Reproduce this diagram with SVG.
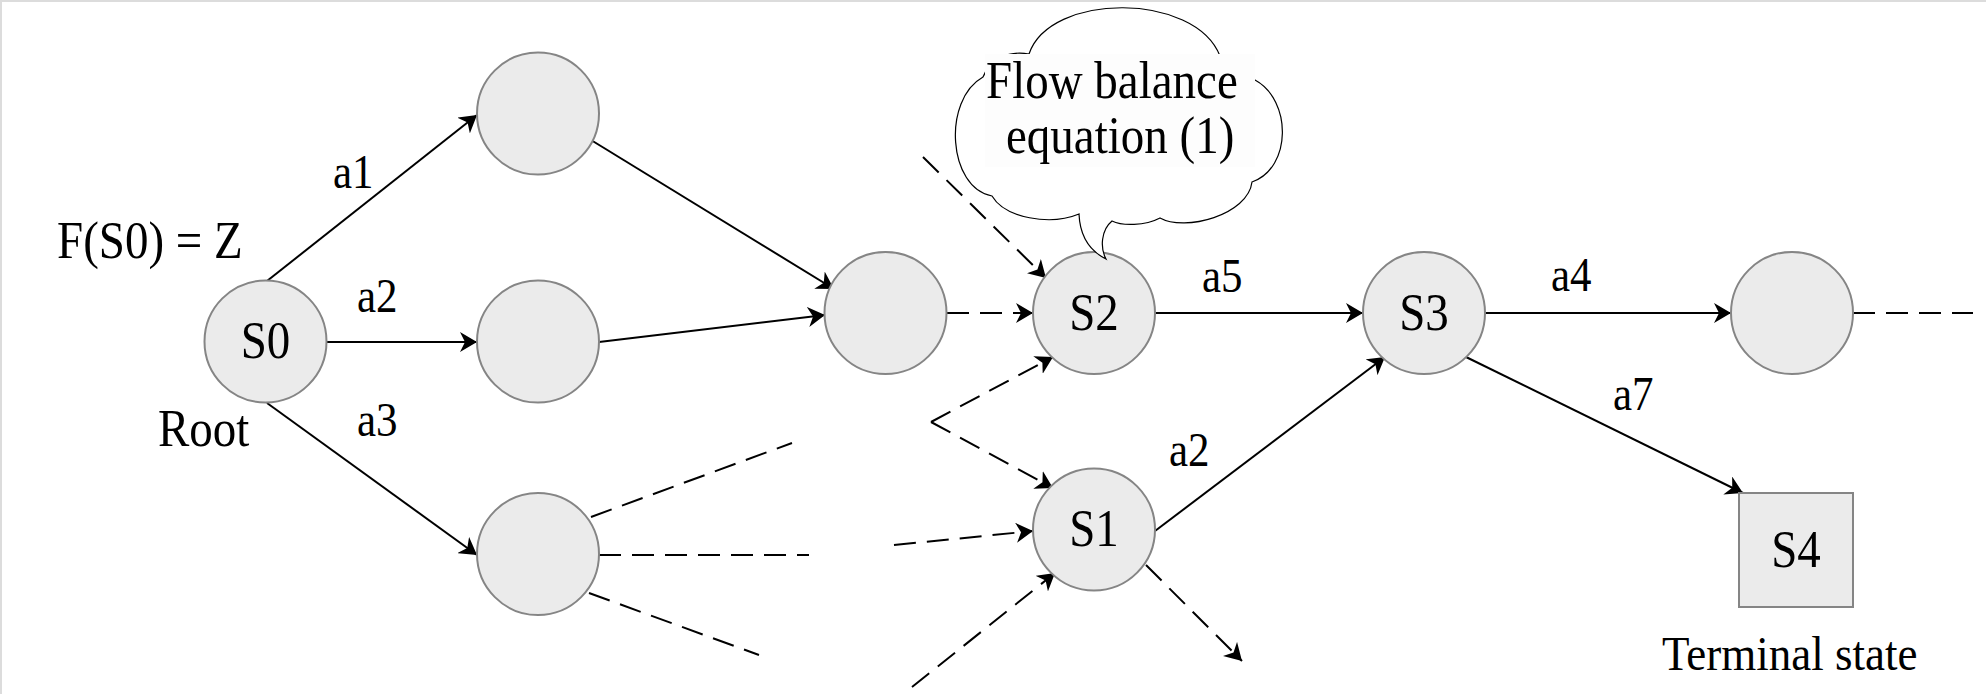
<svg xmlns="http://www.w3.org/2000/svg" width="1986" height="694" viewBox="0 0 1986 694">
<style>
.node{fill:#ebebeb;stroke:#858585;stroke-width:2}
.edge{stroke:#000;stroke-width:2;fill:none}
.dash{stroke-dasharray:22 11}
.t{font-family:"Liberation Serif","Times New Roman",serif;fill:#000}
.lbl{font-size:47px;text-anchor:middle}
.el{font-size:43px}
.big{font-size:47px}
</style>
<defs>
<marker id="arr" viewBox="0 0 18 20" refX="17" refY="10" markerWidth="18" markerHeight="20" markerUnits="userSpaceOnUse" orient="auto">
<path d="M0,0 L17,10 L0,20 L5,10 Z" fill="#000"/>
</marker>
</defs>
<rect x="0" y="0" width="1986" height="694" fill="#fff"/>
<line x1="0" y1="1" x2="1986" y2="1" stroke="#dcdcdc" stroke-width="2"/>
<line x1="1" y1="0" x2="1" y2="694" stroke="#dcdcdc" stroke-width="2"/>

<g id="connectors">
<line class="edge" x1="267" y1="281" x2="477" y2="115" marker-end="url(#arr)"/>
<line class="edge" x1="327" y1="342" x2="477" y2="342" marker-end="url(#arr)"/>
<line class="edge" x1="267" y1="403" x2="477" y2="555" marker-end="url(#arr)"/>
<line class="edge" x1="591" y1="140" x2="834" y2="289" marker-end="url(#arr)"/>
<line class="edge" x1="599" y1="342" x2="825" y2="315" marker-end="url(#arr)"/>
<line class="edge dash" x1="947" y1="313" x2="1033" y2="313" marker-end="url(#arr)"/>
<line class="edge dash" x1="923" y1="157" x2="1046" y2="278" marker-end="url(#arr)"/>
<line class="edge dash" x1="931" y1="422" x2="1053" y2="357" marker-end="url(#arr)"/>
<line class="edge dash" x1="931" y1="422" x2="1053" y2="488" marker-end="url(#arr)"/>
<line class="edge dash" x1="894" y1="545" x2="1033" y2="531" marker-end="url(#arr)"/>
<line class="edge dash" x1="912" y1="687" x2="1055" y2="573" marker-end="url(#arr)"/>
<line class="edge dash" x1="1146" y1="565" x2="1242" y2="661" marker-end="url(#arr)"/>
<line class="edge" x1="1155" y1="313" x2="1363" y2="313" marker-end="url(#arr)"/>
<line class="edge" x1="1155" y1="531" x2="1385" y2="357" marker-end="url(#arr)"/>
<line class="edge" x1="1485" y1="313" x2="1731" y2="313" marker-end="url(#arr)"/>
<line class="edge dash" x1="1853" y1="313" x2="1973" y2="313"/>
<line class="edge" x1="1466" y1="357" x2="1743" y2="493" marker-end="url(#arr)"/>
<line class="edge dash" x1="591" y1="517" x2="792" y2="443"/>
<line class="edge dash" x1="599" y1="555" x2="809" y2="555"/>
<line class="edge dash" x1="589" y1="593" x2="759" y2="655"/>
</g>

<g id="edge-labels">
<text class="t el" transform="translate(333 188) scale(1 1.14)">a1</text>
<text class="t el" transform="translate(357 312) scale(1 1.14)">a2</text>
<text class="t el" transform="translate(357 436) scale(1 1.14)">a3</text>
<text class="t el" transform="translate(1202 292) scale(1 1.14)">a5</text>
<text class="t el" transform="translate(1169 466) scale(1 1.14)">a2</text>
<text class="t el" transform="translate(1551 291) scale(1 1.14)">a4</text>
<text class="t el" transform="translate(1613 410) scale(1 1.14)">a7</text>
</g>

<g id="node-S0">
<circle class="node" cx="265.5" cy="341.5" r="61"/>
<text class="t lbl" transform="translate(265.5 358) scale(1 1.12)">S0</text>
</g>
<g id="node-A"><circle class="node" cx="538" cy="113.5" r="61"/></g>
<g id="node-B"><circle class="node" cx="538" cy="341.5" r="61"/></g>
<g id="node-C"><circle class="node" cx="538" cy="554" r="61"/></g>
<g id="node-D"><circle class="node" cx="885.5" cy="313" r="61"/></g>
<g id="node-S2">
<circle class="node" cx="1094" cy="313" r="61"/>
<text class="t lbl" transform="translate(1094 330) scale(1 1.12)">S2</text>
</g>
<g id="node-S1">
<circle class="node" cx="1094" cy="529.5" r="61"/>
<text class="t lbl" transform="translate(1094 546) scale(1 1.12)">S1</text>
</g>
<g id="node-S3">
<circle class="node" cx="1424" cy="313" r="61"/>
<text class="t lbl" transform="translate(1424 330) scale(1 1.12)">S3</text>
</g>
<g id="node-E"><circle class="node" cx="1792" cy="313" r="61"/></g>
<g id="node-S4">
<rect class="node" x="1739" y="493" width="114" height="114"/>
<text class="t lbl" transform="translate(1796 567) scale(1 1.12)">S4</text>
</g>

<g id="callout">
<path d="M1029,54 C1050,-8 1195,-8 1220,56 C1236,62 1248,70 1255,80 C1292,100 1292,168 1252,182 C1248,215 1185,232 1160,218 C1145,226 1122,226 1112,221 C1101,230 1100,248 1106,259 C1092,252 1080,238 1079,214 C1050,226 1005,218 992,196 C948,188 942,100 983,77 C990,60 1008,50 1029,54 Z" fill="#fff" stroke="#000" stroke-width="1.2"/>
<rect x="985" y="54" width="270" height="113" fill="#fdfdfd"/>
<text class="t big" transform="translate(986 98) scale(1 1.12)">Flow balance</text>
<text class="t big" transform="translate(1006 153) scale(1 1.12)">equation (1)</text>
</g>

<g id="annotations">
<text class="t big" transform="translate(57 258) scale(1 1.12)">F(S0) = Z</text>
<text class="t big" transform="translate(158 446) scale(1 1.12)">Root</text>
<text class="t" style="font-size:45px" transform="translate(1662 670) scale(1 1.1)">Terminal state</text>
</g>
</svg>
